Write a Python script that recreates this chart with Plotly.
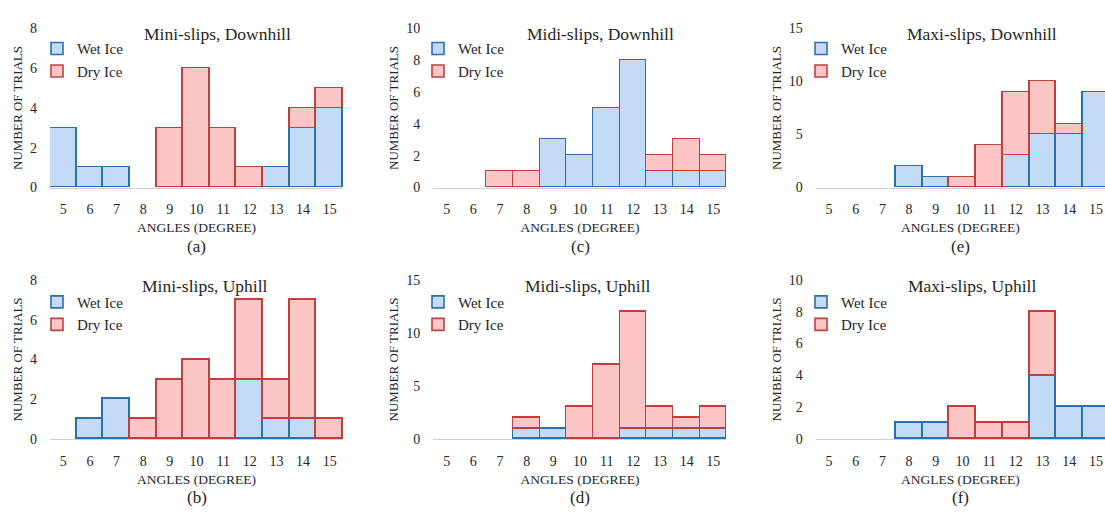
import plotly.graph_objects as go

angles = [5, 6, 7, 8, 9, 10, 11, 12, 13, 14, 15]

# (a) Mini-slips, Downhill
mini_down_wet = [3, 1, 1, 0, 0, 0, 0, 0, 1, 3, 4]
mini_down_dry = [0, 0, 0, 0, 3, 6, 3, 1, 0, 1, 1]
# (c) Midi-slips, Downhill
midi_down_wet = [0, 0, 0, 0, 3, 2, 5, 8, 1, 1, 1]
midi_down_dry = [0, 0, 1, 1, 0, 0, 0, 0, 1, 2, 1]
# (e) Maxi-slips, Downhill
maxi_down_wet = [0, 0, 0, 2, 1, 0, 0, 3, 5, 5, 9]
maxi_down_dry = [0, 0, 0, 0, 0, 1, 4, 6, 5, 1, 0]
# (b) Mini-slips, Uphill
mini_up_wet = [0, 1, 2, 0, 0, 0, 0, 3, 1, 1, 0]
mini_up_dry = [0, 0, 0, 1, 3, 4, 3, 4, 2, 6, 1]
# (d) Midi-slips, Uphill
midi_up_wet = [0, 0, 0, 1, 1, 0, 0, 1, 1, 1, 1]
midi_up_dry = [0, 0, 0, 1, 0, 3, 7, 11, 2, 1, 2]
# (f) Maxi-slips, Uphill
maxi_up_wet = [0, 0, 0, 1, 1, 0, 0, 0, 4, 2, 2]
maxi_up_dry = [0, 0, 0, 0, 0, 2, 1, 1, 4, 0, 0]

titles = ["Mini-slips, Downhill", "Midi-slips, Downhill", "Maxi-slips, Downhill",
          "Mini-slips, Uphill", "Midi-slips, Uphill", "Maxi-slips, Uphill"]
letters = ["(a)", "(c)", "(e)", "(b)", "(d)", "(f)"]
y_max = [8, 10, 15, 8, 15, 10]
y_dtick = [2, 2, 5, 2, 5, 2]

panels = [
    (mini_down_wet, mini_down_dry), (midi_down_wet, midi_down_dry), (maxi_down_wet, maxi_down_dry),
    (mini_up_wet, mini_up_dry), (midi_up_wet, midi_up_dry), (maxi_up_wet, maxi_up_dry),
]

W, H = 1105, 514
FONT = "Liberation Serif"
TXT = "#262626"

# pixel geometry of plot areas
col_px = [(50, 343), (433.3, 726.7), (815.7, 1105)]
row_px = [(22, 186), (281, 445)]
x_ranges = [[4.5, 15.5], [4.5, 15.5], [4.5, 15.34]]
title_x_px = [[217, 600, 982], [205, 588, 972]]
title_y_px = [28, 287]
legend_x_px = [37, 418, 801]
legend_y_px = [26, 287]
letter_y_px = [247, 505]

WET_FILL, WET_LINE = "#c3dbf7", "#2e6fae"
DRY_FILL, DRY_LINE = "#fcc6c6", "#c0403f"

def nz(v):
    return [None if a == 0 else a for a in v]

def f(size):
    return dict(family=FONT, size=size, color=TXT)

fig = go.Figure()
layout = dict(
    width=W, height=H, margin=dict(l=0, r=0, t=0, b=0),
    paper_bgcolor="white", plot_bgcolor="white",
    barmode="stack", bargap=0,
    font=f(14),
    annotations=[],
)

for i, (wet, dry) in enumerate(panels):
    r, c = divmod(i, 3)
    n = i + 1
    xa = "x" if n == 1 else f"x{n}"
    ya = "y" if n == 1 else f"y{n}"
    lg = "legend" if n == 1 else f"legend{n}"
    fig.add_trace(go.Bar(x=angles, y=nz(wet), name="Wet Ice", xaxis=xa, yaxis=ya, legend=lg,
                         marker=dict(color=WET_FILL, line=dict(color=WET_LINE, width=1.6))))
    fig.add_trace(go.Bar(x=angles, y=nz(dry), name="Dry Ice", xaxis=xa, yaxis=ya, legend=lg,
                         marker=dict(color=DRY_FILL, line=dict(color=DRY_LINE, width=1.6))))
    x0, x1 = col_px[c]
    y0, y1 = row_px[r]
    layout["xaxis" if n == 1 else f"xaxis{n}"] = dict(
        domain=[x0 / W, min(x1 / W, 1.0)], range=x_ranges[c], anchor=ya,
        tickmode="array", tickvals=angles, ticktext=[str(a) for a in angles],
        showgrid=False, zeroline=False, showline=True, linecolor="#d0d0d0", linewidth=1,
        ticks="", ticklabelstandoff=9, tickfont=f(14), ticklabeloverflow="allow",
        layer="below traces",
        title=dict(text="ANGLES (DEGREE)", font=f(13.5), standoff=6),
    )
    layout["yaxis" if n == 1 else f"yaxis{n}"] = dict(
        domain=[1 - y1 / H, 1 - y0 / H], range=[0, y_max[i]], dtick=y_dtick[i], anchor=xa,
        showgrid=False, zeroline=False, showline=False, ticks="",
        ticklabelstandoff=12, tickfont=f(14),
        title=dict(text="NUMBER OF TRIALS", font=f(13), standoff=4),
    )
    layout[lg] = dict(
        x=legend_x_px[c] / W, y=1 - legend_y_px[r] / H, xanchor="left", yanchor="top",
        bgcolor="rgba(0,0,0,0)", font=f(15),
        itemwidth=30, traceorder="normal", tracegroupgap=0,
    )
    layout["annotations"].append(dict(
        text=titles[i], xref="paper", yref="paper",
        x=title_x_px[r][c] / W, y=1 - title_y_px[r] / H,
        xanchor="center", yanchor="middle", showarrow=False, font=f(17.5),
    ))
    layout["annotations"].append(dict(
        text=letters[i], xref="paper", yref="paper",
        x=((x0 + min(x1, W)) / 2) / W, y=1 - letter_y_px[r] / H,
        xanchor="center", yanchor="middle", showarrow=False, font=f(17),
    ))

fig.update_layout(**layout)
fig.write_html("out.html", config={"displayModeBar": False},
               post_script="document.body.style.margin='0px';")
